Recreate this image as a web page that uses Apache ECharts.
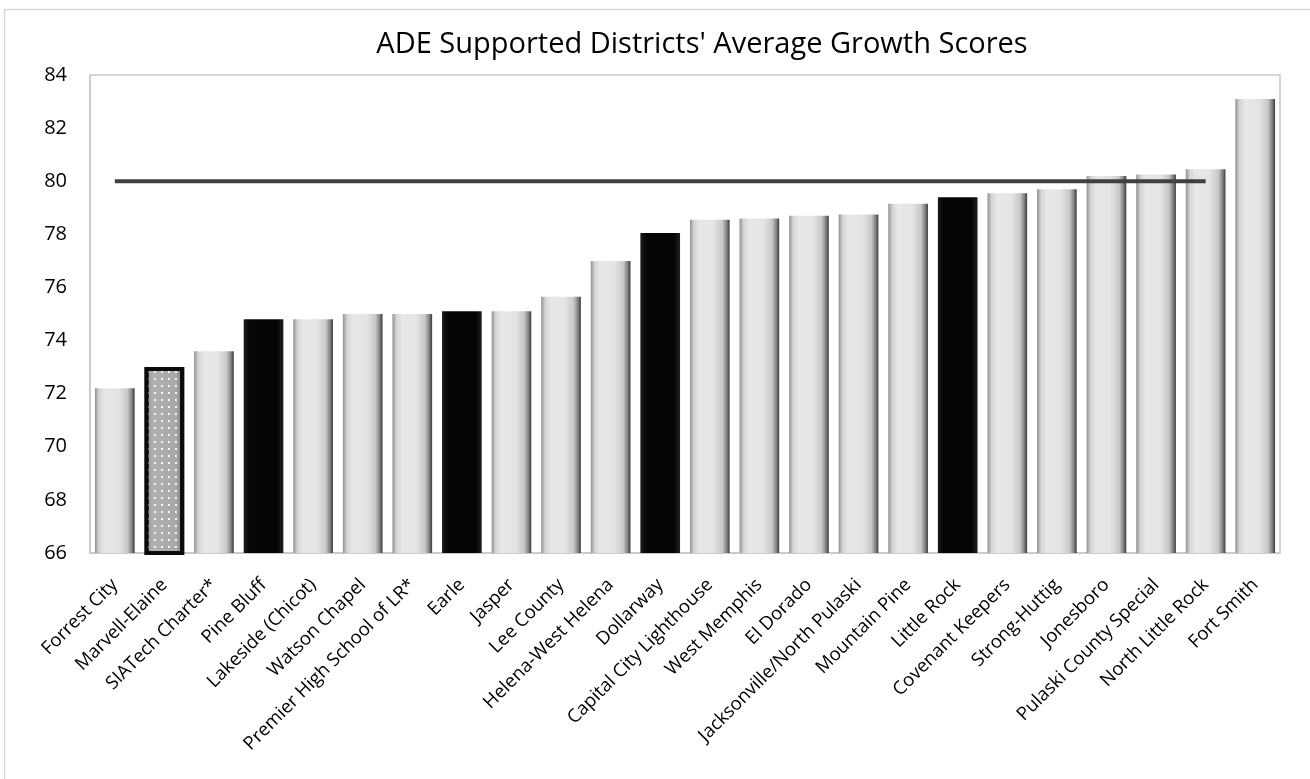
<!DOCTYPE html>
<html>
<head>
<meta charset="utf-8">
<script src="https://cdn.jsdelivr.net/npm/echarts@6/dist/echarts.min.js"></script>
<style>
html,body{margin:0;padding:0;background:#fff;}
#c{width:1310px;height:779px;}
</style>
</head>
<body>
<div id="c"></div>
<script>
const categories = ["Forrest City","Marvell-Elaine","SIATech Charter*","Pine Bluff","Lakeside (Chicot)","Watson Chapel","Premier High School of LR*","Earle","Jasper","Lee County","Helena-West Helena","Dollarway","Capital City Lighthouse","West Memphis","El Dorado","Jacksonville/North Pulaski","Mountain Pine","Little Rock","Covenant Keepers","Strong-Huttig","Jonesboro","Pulaski County Special","North Little Rock","Fort Smith"];
const scores = [72.2,73.0,73.6,74.8,74.8,75.0,75.0,75.1,75.1,75.65,77.0,78.05,78.55,78.6,78.7,78.75,79.15,79.4,79.55,79.7,80.2,80.25,80.45,83.1];
const target = [80,80,80,80,80,80,80,80,80,80,80,80,80,80,80,80,80,80,80,80,80,80,80,null];
const blackBars = ["Pine Bluff","Earle","Dollarway","Little Rock"];
const dottedBars = ["Marvell-Elaine"];
const yTicks = {min:66,max:84,interval:2};

const grayGrad = new echarts.graphic.LinearGradient(0,0,1,0,[
  {offset:0,color:'#909090'},{offset:0.1,color:'#d4d4d4'},{offset:0.25,color:'#e8e8e8'},
  {offset:0.6,color:'#e4e4e4'},{offset:0.82,color:'#c8c8c8'},{offset:0.93,color:'#808080'},{offset:1,color:'#3a3a3a'}]);
const blackGrad = new echarts.graphic.LinearGradient(0,0,1,0,[
  {offset:0,color:'#1a1a1a'},{offset:0.15,color:'#050505'},{offset:0.85,color:'#050505'},{offset:1,color:'#202020'}]);
const dotGrad = new echarts.graphic.LinearGradient(0,0,1,0,[
  {offset:0,color:'#8a8a8a'},{offset:0.2,color:'#b0b0b0'},{offset:0.8,color:'#a8a8a8'},{offset:1,color:'#707070'}]);

const barData = categories.map((c,i)=>{
  if (blackBars.includes(c)) return {value:scores[i], itemStyle:{color:blackGrad}};
  if (dottedBars.includes(c)) return {value:scores[i], itemStyle:{color:dotGrad, borderColor:'#0a0a0a', borderWidth:4,
     decal:{symbol:'rect', symbolSize:1, color:'#f4f4f4', dashArrayX:[2,5], dashArrayY:[2,5], rotation:0}}};
  return {value:scores[i], itemStyle:{color:grayGrad}};
});

const labelFont = 'Open Sans';
const chart = echarts.init(document.getElementById('c'));
chart.setOption({
  animation:false,
  backgroundColor:'#ffffff',
  title:{text:"ADE Supported Districts' Average Growth Scores", left:697, textAlign:'center', top:25,
    textStyle:{fontFamily:labelFont, fontWeight:'normal', fontSize:29, color:'#000'}},
  graphic:[{type:'rect', shape:{x:4.5,y:9.5,width:1400,height:900}, style:{fill:'none', stroke:'#d9d9d9', lineWidth:1.5}, silent:true}],
  grid:{left:90, right:30, top:75, bottom:226, show:true, borderColor:'#c8c8c8', borderWidth:1.5, containLabel:false},
  xAxis:{type:'category', data:categories,
    axisLine:{show:true, lineStyle:{color:'#c8c8c8', width:1.5}}, axisTick:{show:false},
    axisLabel:{interval:0, rotate:45, fontFamily:labelFont, fontSize:18.5, color:'#000', margin:29}},
  yAxis:{type:'value', min:yTicks.min, max:yTicks.max, interval:yTicks.interval,
    axisLine:{show:true, lineStyle:{color:'#c8c8c8', width:1.5}}, axisTick:{show:false}, splitLine:{show:false},
    axisLabel:{fontFamily:labelFont, fontSize:20, color:'#000', margin:23}},
  series:[
    {type:'bar', data:barData, barCategoryGap:'20%', z:2},
    {type:'line', data:target, symbol:'none', lineStyle:{color:'#404040', width:4}, z:3}
  ]
});
</script>
</body>
</html>
